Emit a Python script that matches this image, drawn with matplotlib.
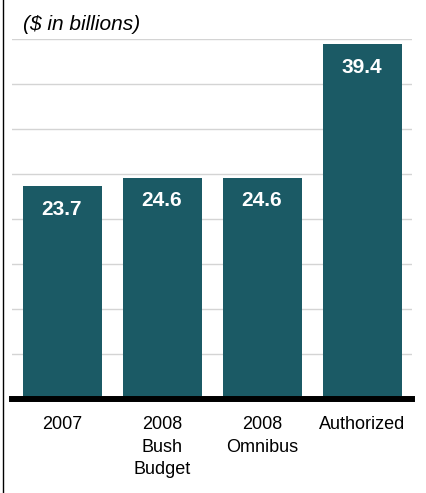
import matplotlib.pyplot as plt
from matplotlib.lines import Line2D

plt.rcParams['font.family'] = ['Liberation Sans', 'DejaVu Sans']

categories = ['2007', '2008\nBush\nBudget', '2008\nOmnibus', 'Authorized']
values = [23.7, 24.6, 24.6, 39.4]
labels = ['23.7', '24.6', '24.6', '39.4']
bar_color = '#1b5a65'

fig = plt.figure(figsize=(4.27, 4.93), dpi=100)
ax = fig.add_axes([12/427, 94/493, 400/427, 360/493])

x = range(len(categories))
ax.bar(x, values, width=0.79, color=bar_color, zorder=2)

for i, v in enumerate(values):
    ax.annotate(labels[i], (i, v), xytext=(0, -10), textcoords='offset points',
                ha='center', va='top', color='white', fontsize=15, fontweight='bold', zorder=3)

ax.set_xlim(-0.5, 3.5)
ax.set_ylim(0, 40)
ax.set_yticks(range(5, 41, 5))
ax.yaxis.grid(True, color='#d4d4d4', linewidth=1)
ax.set_axisbelow(True)
ax.tick_params(axis='y', left=False, labelleft=False)
ax.tick_params(axis='x', length=0, pad=12.5, labelsize=13)
ax.set_xticks(list(x))
ax.set_xticklabels(categories, linespacing=1.4)

for s in ['top', 'right', 'left']:
    ax.spines[s].set_visible(False)
ax.spines['bottom'].set_linewidth(4.3)
ax.spines['bottom'].set_color('black')
ax.spines['bottom'].set_zorder(4)

fig.text(23/427, 1 - 25/493, '($ in billions)', fontsize=15, fontstyle='italic',
         ha='left', va='center')

fig.add_artist(Line2D([2.5/427, 2.5/427], [0, 1], color='black', linewidth=1))

fig.savefig('out.png', dpi=100)
